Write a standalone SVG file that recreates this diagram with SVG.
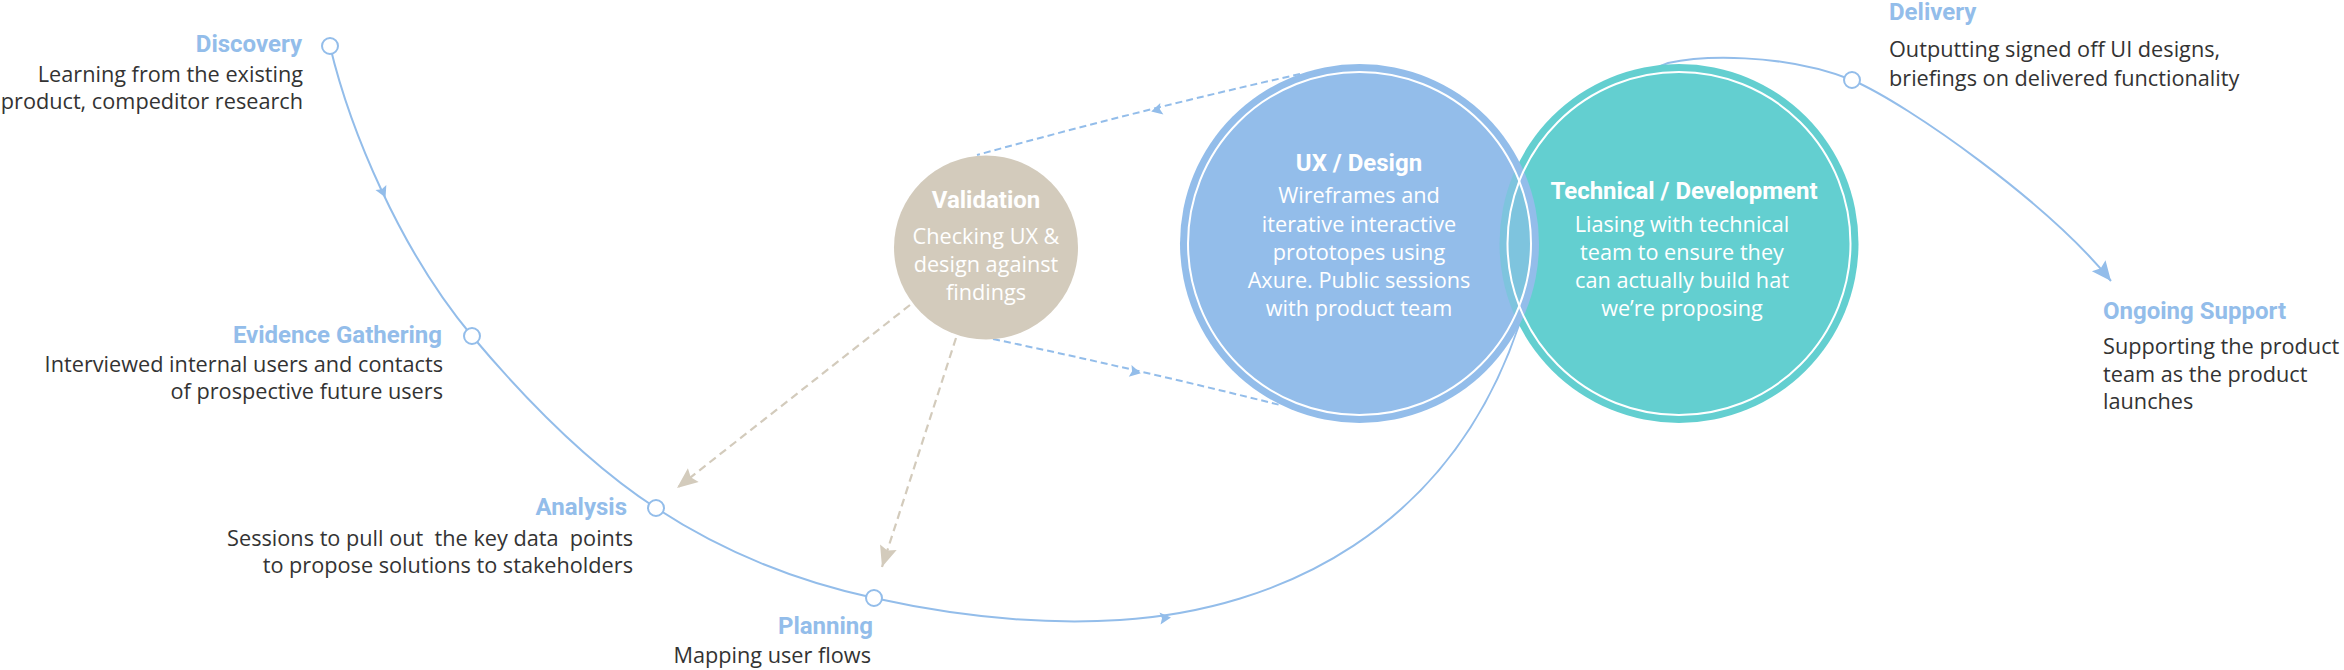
<svg xmlns="http://www.w3.org/2000/svg" xmlns:xlink="http://www.w3.org/1999/xlink" width="2344" height="670" viewBox="0 0 2344 670">
<style>
.h{font-family:Roboto,"Liberation Sans",sans-serif;font-weight:700;font-size:24px;fill:#93BDEA}
.hw{font-family:Roboto,"Liberation Sans",sans-serif;font-weight:700;font-size:24px;fill:#FFFFFF}
.b{font-family:"Open Sans","Liberation Sans",sans-serif;font-size:21.7px;fill:#333333;white-space:pre}
.bw{font-family:"Open Sans","Liberation Sans",sans-serif;font-size:21.7px;fill:#FFFFFF}
.flow{fill:none;stroke:#93BDEA;stroke-width:2}
.dashb{fill:none;stroke:#93BDEA;stroke-width:2;stroke-dasharray:7 4}
.dasht{fill:none;stroke:#D3CBBC;stroke-width:2.2;stroke-dasharray:8 5}
.node{fill:#FFFFFF;stroke:#93BDEA;stroke-width:2}
.ring{fill:none;stroke:#FFFFFF;stroke-width:2}
.ab{fill:#93BDEA}
</style>
<defs>
<marker id="tipBlue" markerUnits="userSpaceOnUse" markerWidth="24" markerHeight="24" viewBox="-20 -10 22 20" refX="0" refY="0" orient="auto">
<path d="M0,0 L-18,-8 L-15,0 L-18,8 Z" fill="#93BDEA"/>
</marker>
<marker id="tipTan" markerUnits="userSpaceOnUse" markerWidth="24" markerHeight="24" viewBox="-20 -10 22 20" refX="0" refY="0" orient="auto">
<path d="M0,0 L-19,-8 L-16,0 L-19,8 Z" fill="#D3CBBC"/>
</marker>
<path id="mid" d="M6,0 L-5,-6 L-3,0 L-5,6 Z"/>
<clipPath id="clipBlueInner"><circle cx="1359.5" cy="243.5" r="172"/></clipPath>
</defs>

<g id="connectors">
<path class="flow" d="M330,46 C350,130 400,250 472,336 C530,405 590,465 656,508 C720,550 790,580 874,598 C960,617 1040,625 1120,620 C1280,610 1450,530 1519,325 C1560,230 1610,80 1668,63 C1700,56 1780,52 1852,80 C1910,105 2050,205 2111,281" marker-end="url(#tipBlue)"/>
<use href="#mid" class="ab" transform="translate(383,192) rotate(65)"/>
<use href="#mid" class="ab" transform="translate(1165,618) rotate(-5)"/>
<path class="dashb" d="M1300,74 Q1140,110 977,155"/>
<use href="#mid" class="ab" transform="translate(1157,110) rotate(165)"/>
<path class="dashb" d="M993,339 Q1140,370 1280,405"/>
<use href="#mid" class="ab" transform="translate(1135,372) rotate(13)"/>
<path class="dasht" d="M910,305 L677,488" marker-end="url(#tipTan)"/>
<path class="dasht" d="M956,338 L882,567" marker-end="url(#tipTan)"/>
</g>

<g id="discovery">
<circle class="node" cx="330" cy="46" r="8"/>
<text class="h" x="302" y="52" text-anchor="end">Discovery</text>
<text class="b" x="303" y="82" text-anchor="end">Learning from the existing</text>
<text class="b" x="303" y="109" text-anchor="end">product, compeditor research</text>
</g>

<g id="evidence-gathering">
<circle class="node" cx="472" cy="336" r="8"/>
<text class="h" x="442" y="343" text-anchor="end">Evidence Gathering</text>
<text class="b" x="443" y="372" text-anchor="end">Interviewed internal users and contacts</text>
<text class="b" x="443" y="399" text-anchor="end">of prospective future users</text>
</g>

<g id="analysis">
<circle class="node" cx="656" cy="508" r="8"/>
<text class="h" x="627" y="515" text-anchor="end">Analysis</text>
<text class="b" x="633" y="546" text-anchor="end">Sessions to pull out  the key data  points</text>
<text class="b" x="633" y="573" text-anchor="end">to propose solutions to stakeholders</text>
</g>

<g id="planning">
<circle class="node" cx="874" cy="598" r="8"/>
<text class="h" x="873" y="634" text-anchor="end">Planning</text>
<text class="b" x="871" y="663" text-anchor="end">Mapping user flows</text>
</g>

<g id="validation">
<circle cx="986" cy="247.5" r="92" fill="#D3CBBC"/>
<text class="hw" x="986" y="208" text-anchor="middle">Validation</text>
<text class="bw" x="986" y="244" text-anchor="middle">Checking UX &amp;</text>
<text class="bw" x="986" y="272" text-anchor="middle">design against</text>
<text class="bw" x="986" y="300" text-anchor="middle">findings</text>
</g>

<g id="technical-development">
<circle cx="1679" cy="243.5" r="179.5" fill="#63CFD0"/>
</g>

<g id="ux-design">
<circle cx="1359.5" cy="243.5" r="179.5" fill="#93BDEA"/>
<circle cx="1679" cy="243.5" r="179.5" fill="#7EC4DE" clip-path="url(#clipBlueInner)"/>
<circle class="ring" cx="1359.5" cy="243.5" r="171.5"/>
<circle class="ring" cx="1679" cy="243.5" r="171.5"/>
<text class="hw" x="1359" y="171" text-anchor="middle">UX / Design</text>
<text class="bw" x="1359" y="203" text-anchor="middle">Wireframes and</text>
<text class="bw" x="1359" y="232" text-anchor="middle">iterative interactive</text>
<text class="bw" x="1359" y="260" text-anchor="middle">prototopes using</text>
<text class="bw" x="1359" y="288" text-anchor="middle">Axure. Public sessions</text>
<text class="bw" x="1359" y="316" text-anchor="middle">with product team</text>
</g>

<g id="technical-development-text">
<text class="hw" x="1684" y="199" text-anchor="middle">Technical / Development</text>
<text class="bw" x="1682" y="232" text-anchor="middle">Liasing with technical</text>
<text class="bw" x="1682" y="260" text-anchor="middle">team to ensure they</text>
<text class="bw" x="1682" y="288" text-anchor="middle">can actually build hat</text>
<text class="bw" x="1682" y="316" text-anchor="middle">we’re proposing</text>
</g>

<g id="delivery">
<circle class="node" cx="1852" cy="80" r="8"/>
<text class="h" x="1889" y="20">Delivery</text>
<text class="b" x="1889" y="57">Outputting signed off UI designs,</text>
<text class="b" x="1889" y="86">briefings on delivered functionality</text>
</g>

<g id="ongoing-support">
<text class="h" x="2103" y="319">Ongoing Support</text>
<text class="b" x="2103" y="354">Supporting the product</text>
<text class="b" x="2103" y="382">team as the product</text>
<text class="b" x="2103" y="409">launches</text>
</g>
</svg>
